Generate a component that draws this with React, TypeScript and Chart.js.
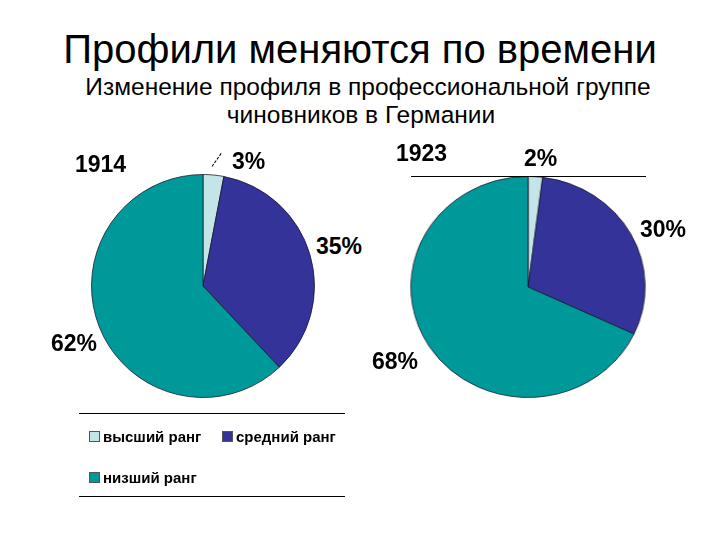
import React, { useEffect, useRef } from "react";
import { Chart, registerables } from "chart.js";

Chart.register(...registerables);

const categories = ["высший ранг", "средний ранг", "низший ранг"];
const colors = ["#C3E5E7", "#333399", "#009999"];
const years = ["1914", "1923"];
const values1914 = [3, 35, 62];
const values1923 = [2, 30, 68];

const TITLE = "Профили меняются по времени";
const SUBTITLE1 = "Изменение профиля в профессиональной группе";
const SUBTITLE2 = "чиновников в Германии";

function Pie({ values, size }: { values: number[]; size: number }) {
  const ref = useRef<HTMLCanvasElement | null>(null);
  useEffect(() => {
    if (!ref.current) return;
    const chart = new Chart(ref.current, {
      type: "pie",
      data: {
        labels: categories,
        datasets: [
          {
            data: values,
            backgroundColor: colors,
            borderColor: "rgba(20,20,40,0.75)",
            borderWidth: 1,
          },
        ],
      },
      options: {
        responsive: false,
        maintainAspectRatio: false,
        animation: false,
        layout: { padding: 0 },
        plugins: { legend: { display: false }, tooltip: { enabled: false } },
      },
    });
    return () => chart.destroy();
  }, [values]);
  return <canvas ref={ref} width={size} height={size} style={{ display: "block" }} />;
}

const labelFont: React.CSSProperties = {
  position: "absolute",
  fontFamily: "Arial, 'Liberation Sans', sans-serif",
  fontWeight: "bold",
  fontSize: 23,
  color: "#000",
  lineHeight: 1,
  whiteSpace: "nowrap",
};

const legendFont: React.CSSProperties = {
  position: "absolute",
  fontFamily: "Arial, 'Liberation Sans', sans-serif",
  fontWeight: "bold",
  fontSize: 15,
  color: "#000",
  lineHeight: 1,
  whiteSpace: "nowrap",
};

export default function App() {
  const legendPos = [
    { x: 89, y: 431 },
    { x: 222, y: 431 },
    { x: 89, y: 472 },
  ];
  return (
    <div
      style={{
        position: "fixed",
        left: 0,
        top: 0,
        width: 720,
        height: 540,
        background: "#fff",
        overflow: "hidden",
        fontFamily: "Arial, 'Liberation Sans', sans-serif",
      }}
    >
      <div
        style={{
          position: "absolute",
          left: 0,
          width: 720,
          top: 27,
          textAlign: "center",
          fontSize: 40,
          lineHeight: "44px",
          color: "#000",
        }}
      >
        {TITLE}
      </div>
      <div
        style={{
          position: "absolute",
          left: 0,
          width: 736,
          top: 73,
          textAlign: "center",
          fontSize: 24.5,
          lineHeight: "28px",
          color: "#000",
        }}
      >
        {SUBTITLE1}
        <br />
        <span style={{ position: "relative", left: -7 }}>{SUBTITLE2}</span>
      </div>

      {/* left pie */}
      <div style={{ position: "absolute", left: 203 - 112, top: 286 - 112 }}>
        <Pie values={values1914} size={224} />
      </div>
      {/* right pie (slightly stretched horizontally) */}
      <div
        style={{
          position: "absolute",
          left: 528 - 111,
          top: 287 - 111,
          transform: "scaleX(1.06)",
          transformOrigin: "center center",
        }}
      >
        <Pie values={values1923} size={222} />
      </div>
      <div style={{ position: "absolute", left: 411, top: 176, width: 235, height: 1, background: "#000" }} />

      {/* labels 1914 */}
      <div style={{ ...labelFont, left: 75, top: 153 }}>{years[0]}</div>
      <div style={{ ...labelFont, left: 232, top: 150 }}>{values1914[0]}%</div>
      <div style={{ ...labelFont, left: 316, top: 235 }}>{values1914[1]}%</div>
      <div style={{ ...labelFont, left: 51, top: 332 }}>{values1914[2]}%</div>
      <div
        style={{
          position: "absolute",
          left: 212,
          top: 166,
          width: 16,
          height: 0,
          borderTop: "1px dashed #000",
          transform: "rotate(-55deg)",
          transformOrigin: "left center",
        }}
      />

      {/* labels 1923 */}
      <div style={{ ...labelFont, left: 396, top: 142 }}>{years[1]}</div>
      <div style={{ ...labelFont, left: 524, top: 147 }}>{values1923[0]}%</div>
      <div style={{ ...labelFont, left: 640, top: 218 }}>{values1923[1]}%</div>
      <div style={{ ...labelFont, left: 372, top: 350 }}>{values1923[2]}%</div>

      {/* legend */}
      <div style={{ position: "absolute", left: 79, top: 413, width: 266, height: 1, background: "#000" }} />
      <div style={{ position: "absolute", left: 79, top: 496, width: 266, height: 1, background: "#000" }} />
      {categories.map((c, i) => (
        <React.Fragment key={c}>
          <div
            style={{
              position: "absolute",
              left: legendPos[i].x,
              top: legendPos[i].y,
              width: 9,
              height: 9,
              background: colors[i],
              border: "1px solid #555",
            }}
          />
          <div style={{ ...legendFont, left: legendPos[i].x + 14, top: legendPos[i].y - 2 }}>{c}</div>
        </React.Fragment>
      ))}
    </div>
  );
}
